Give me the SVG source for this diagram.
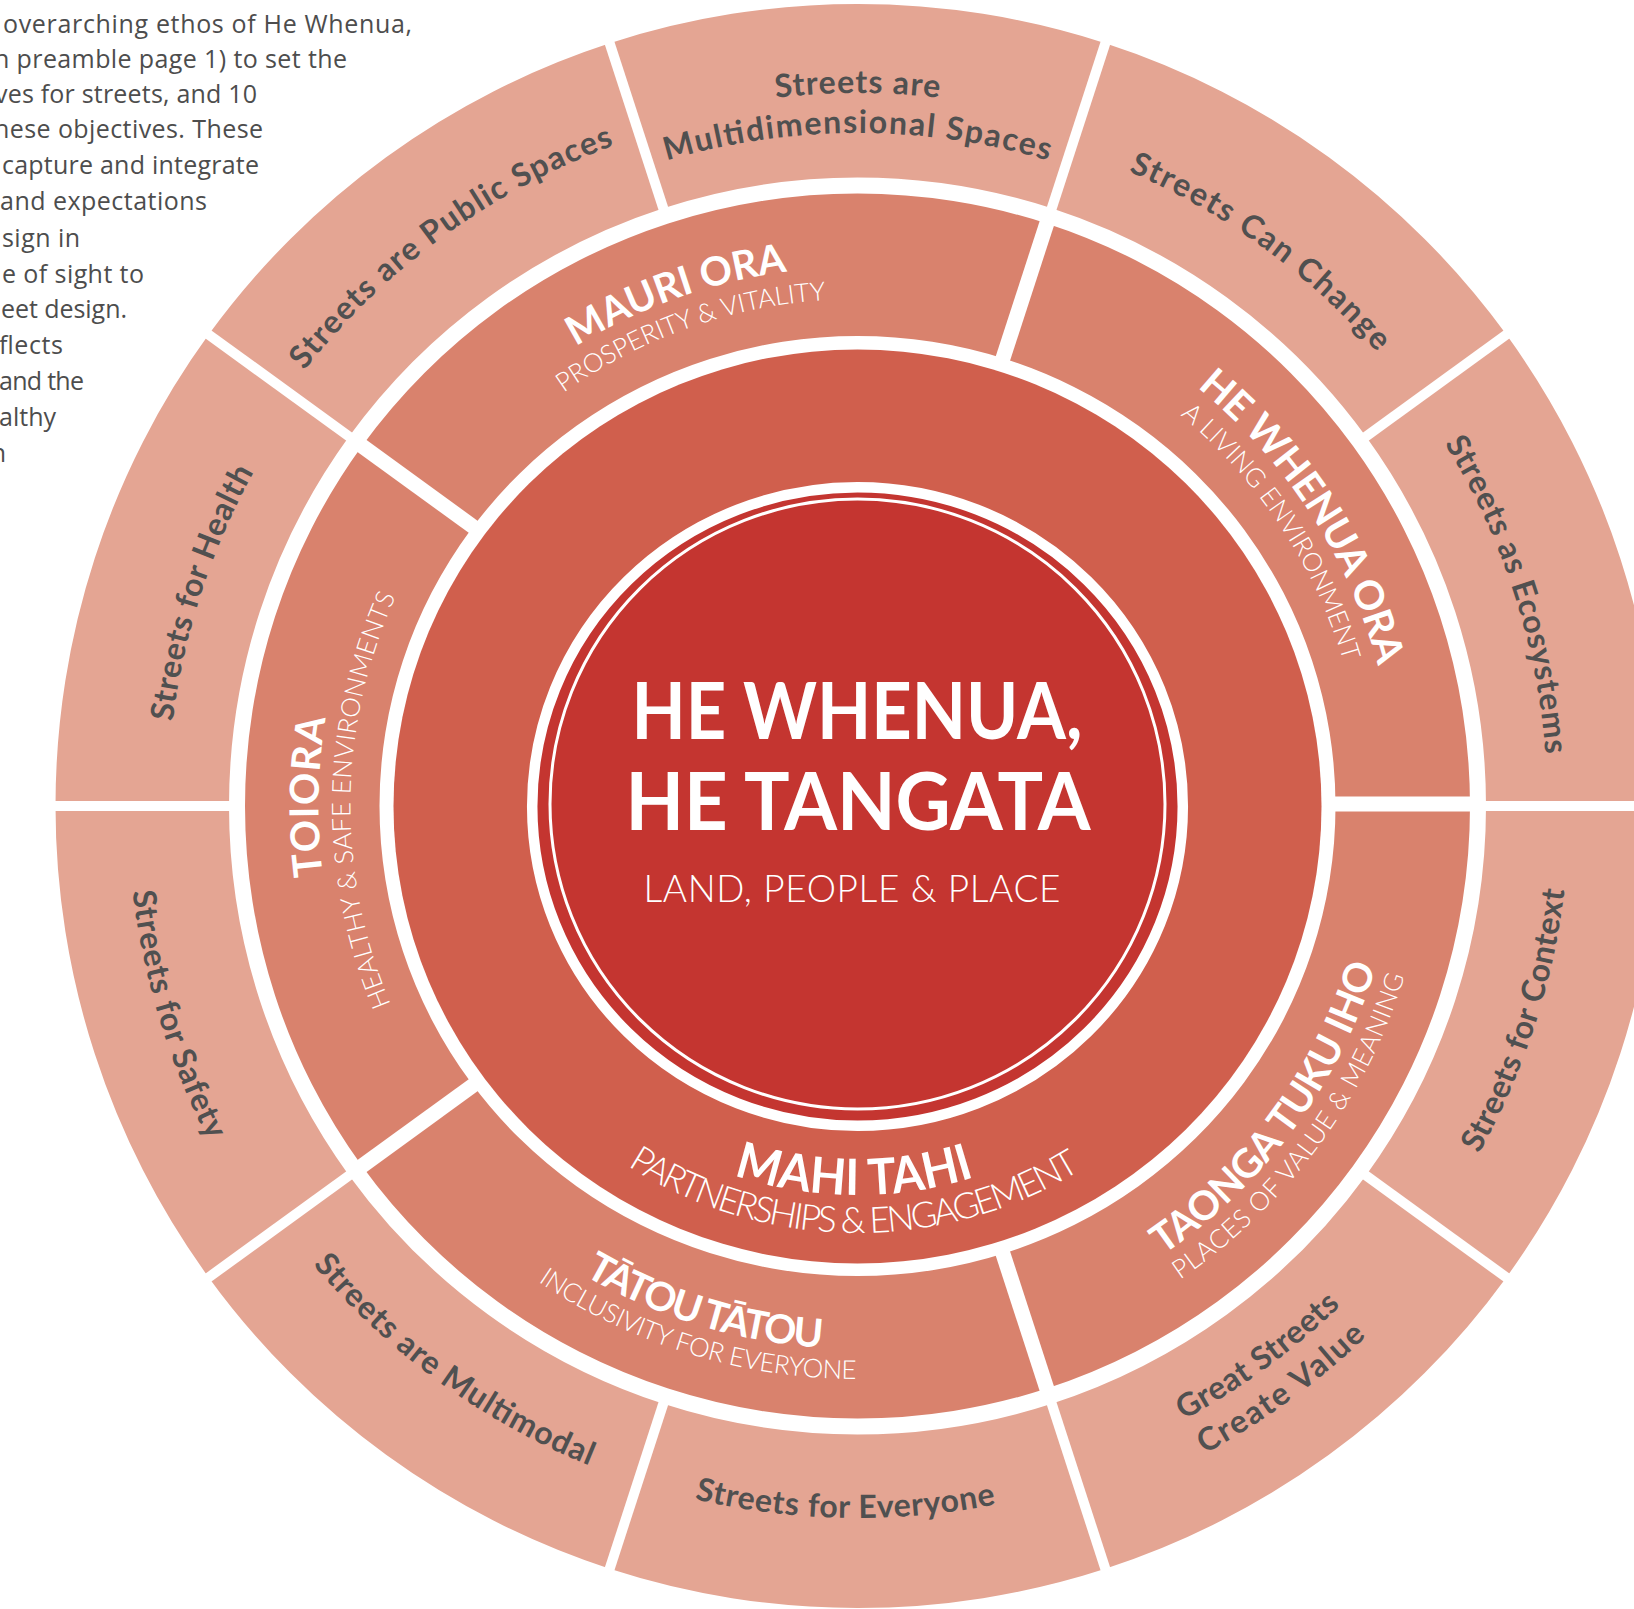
<svg xmlns="http://www.w3.org/2000/svg" width="1634" height="1609" viewBox="0 0 1634 1609">
<style>
  .outer { fill: #E4A593; }
  .mid { fill: #D9826D; }
  .inner { fill: #D05F4D; }
  .core { fill: #C43530; }
  .lbl { font-family: Lato, "Liberation Sans", sans-serif; font-weight: 700; font-size: 32px; fill: #505050; }
  .ttl { font-family: Lato, "Liberation Sans", sans-serif; font-weight: 700; font-size: 40px; fill: #ffffff; }
  .sub { font-family: Lato, "Liberation Sans", sans-serif; font-weight: 300; font-size: 26px; fill: #ffffff; }
  .para { font-family: "Open Sans", "Liberation Sans", sans-serif; font-size: 25px; fill: #4D4D4D; }
  .divo { stroke: #ffffff; stroke-width: 10; }
  .divm { stroke: #ffffff; stroke-width: 15; }
</style>
<defs>
  <!-- clockwise arcs centred on the top of the wheel (text upright, tops outward) -->
  <path id="cw713" d="M 147.22 743.85 A 713 713 0 0 1 1567.78 743.85"/>
  <path id="cw704" d="M 156.18 744.64 A 704 704 0 0 1 1558.82 744.64"/>
  <path id="cw690" d="M 170.13 745.86 A 690 690 0 0 1 1544.87 745.86"/>
  <path id="cw673" d="M 187.06 747.34 A 673 673 0 0 1 1527.94 747.34"/>
  <path id="cw539" d="M 320.55 759.02 A 539 539 0 0 1 1394.45 759.02"/>
  <path id="cw507" d="M 352.43 761.81 A 507 507 0 0 1 1362.57 761.81"/>
  <!-- counter-clockwise arcs centred on the bottom (tops inward) -->
  <path id="ccw735" d="M 125.3 870.06 A 735 735 0 0 0 1589.7 870.06"/>
  <path id="ccw730" d="M 130.28 869.63 A 730 730 0 0 0 1584.72 869.63"/>
  <path id="ccw712" d="M 148.21 868.06 A 712 712 0 0 0 1566.79 868.06"/>
  <path id="ccw695" d="M 165.15 866.58 A 695 695 0 0 0 1549.85 866.58"/>
  <path id="ccw573" d="M 286.68 855.94 A 573 573 0 0 0 1428.32 855.94"/>
  <path id="ccw543" d="M 316.57 853.33 A 543 543 0 0 0 1398.43 853.33"/>
  <path id="ccw427" d="M 432.13 843.22 A 427 427 0 0 0 1282.87 843.22"/>
  <path id="ccw389" d="M 469.98 839.91 A 389 389 0 0 0 1245.02 839.91"/>
</defs>

<rect width="1634" height="1609" fill="#ffffff"/>

<!-- introductory paragraph, running in from the left page edge -->
<g id="intro-text" class="para" text-anchor="end">
  <text x="412" y="33" textLength="409">overarching ethos of He Whenua,</text>
  <text x="347" y="68" textLength="353">n preamble page 1) to set the</text>
  <text x="257" y="103" textLength="262">ves for streets, and 10</text>
  <text x="263" y="138" textLength="269">hese objectives. These</text>
  <text x="259" y="174" textLength="257">capture and integrate</text>
  <text x="207" y="210" textLength="207">and expectations</text>
  <text x="80" y="247" textLength="78">sign in</text>
  <text x="144" y="283" textLength="142">e of sight to</text>
  <text x="127" y="318" textLength="126">eet design.</text>
  <text x="63" y="354" textLength="64">flects</text>
  <text x="84" y="390" textLength="85">and the</text>
  <text x="56" y="426" textLength="57">althy</text>
  <text x="6" y="462" textLength="13">n</text>
</g>

<!-- outer ring: ten street principles -->
<g id="outer-ring">
  <g id="p-multidimensional">
    <path class="outer" d="M 609.67 43.25 A 802 802 0 0 1 1105.33 43.25 L 1051.72 208.26 A 628.5 628.5 0 0 0 663.28 208.26 Z"/>
    <text class="lbl"><textPath href="#cw713" startOffset="50%" text-anchor="middle" textLength="164">Streets are</textPath></text>
    <text class="lbl"><textPath href="#cw673" startOffset="50%" text-anchor="middle" textLength="387">Multidimensional Spaces</textPath></text>
  </g>
  <g id="p-can-change">
    <path class="outer" d="M 1105.33 43.25 A 802 802 0 0 1 1506.33 334.59 L 1365.97 436.57 A 628.5 628.5 0 0 0 1051.72 208.26 Z"/>
    <text class="lbl" transform="rotate(36 857.5 806)"><textPath href="#cw690" startOffset="50%" text-anchor="middle" textLength="310">Streets Can Change</textPath></text>
  </g>
  <g id="p-ecosystems">
    <path class="outer" d="M 1506.33 334.59 A 802 802 0 0 1 1659.5 806 L 1486 806 A 628.5 628.5 0 0 0 1365.97 436.57 Z"/>
    <text class="lbl" transform="rotate(72 857.5 806)"><textPath href="#cw690" startOffset="50%" text-anchor="middle" textLength="330">Streets as Ecosystems</textPath></text>
  </g>
  <g id="p-context">
    <path class="outer" d="M 1659.5 806 A 802 802 0 0 1 1506.33 1277.41 L 1365.97 1175.43 A 628.5 628.5 0 0 0 1486 806 Z"/>
    <text class="lbl" transform="rotate(-72 857.5 806)"><textPath href="#ccw712" startOffset="50%" text-anchor="middle" textLength="279">Streets for Context</textPath></text>
  </g>
  <g id="p-create-value">
    <path class="outer" d="M 1506.33 1277.41 A 802 802 0 0 1 1105.33 1568.75 L 1051.72 1403.74 A 628.5 628.5 0 0 0 1365.97 1175.43 Z"/>
    <text class="lbl" transform="rotate(-36 857.5 806)"><textPath href="#ccw695" startOffset="50%" text-anchor="middle" textLength="195">Great Streets</textPath></text>
    <text class="lbl" transform="rotate(-36 857.5 806)"><textPath href="#ccw735" startOffset="50%" text-anchor="middle" textLength="201">Create Value</textPath></text>
  </g>
  <g id="p-everyone">
    <path class="outer" d="M 1105.33 1568.75 A 802 802 0 0 1 609.67 1568.75 L 663.28 1403.74 A 628.5 628.5 0 0 0 1051.72 1403.74 Z"/>
    <text class="lbl" transform="rotate(1 857.5 806)"><textPath href="#ccw712" startOffset="50%" text-anchor="middle" textLength="304">Streets for Everyone</textPath></text>
  </g>
  <g id="p-multimodal">
    <path class="outer" d="M 609.67 1568.75 A 802 802 0 0 1 208.67 1277.41 L 349.03 1175.43 A 628.5 628.5 0 0 0 663.28 1403.74 Z"/>
    <text class="lbl" transform="rotate(36 857.5 806)"><textPath href="#ccw712" startOffset="50%" text-anchor="middle" textLength="345">Streets are Multimodal</textPath></text>
  </g>
  <g id="p-safety">
    <path class="outer" d="M 208.67 1277.41 A 802 802 0 0 1 55.5 806 L 229 806 A 628.5 628.5 0 0 0 349.03 1175.43 Z"/>
    <text class="lbl" transform="rotate(73 857.5 806)"><textPath href="#ccw730" startOffset="50%" text-anchor="middle" textLength="262">Streets for Safety</textPath></text>
  </g>
  <g id="p-health">
    <path class="outer" d="M 55.5 806 A 802 802 0 0 1 208.67 334.59 L 349.03 436.57 A 628.5 628.5 0 0 0 229 806 Z"/>
    <text class="lbl" transform="rotate(-72 857.5 806)"><textPath href="#cw690" startOffset="50%" text-anchor="middle" textLength="264">Streets for Health</textPath></text>
  </g>
  <g id="p-public-spaces">
    <path class="outer" d="M 208.67 334.59 A 802 802 0 0 1 609.67 43.25 L 663.28 208.26 A 628.5 628.5 0 0 0 349.03 436.57 Z"/>
    <text class="lbl" transform="rotate(-36 857.5 806)"><textPath href="#cw704" startOffset="50%" text-anchor="middle" textLength="388">Streets are Public Spaces</textPath></text>
  </g>
</g>

<!-- middle ring: five outcomes -->
<g id="middle-ring">
  <g id="o-mauri-ora">
    <path class="mid" d="M 361.98 445.98 A 612.5 612.5 0 0 1 1046.77 223.48 L 1005.21 359 A 478 470 0 0 0 470.79 529.74 Z"/>
    <text class="ttl" transform="rotate(-19.5 857.5 806)"><textPath href="#cw539" startOffset="50%" text-anchor="middle" textLength="226">MAURI ORA</textPath></text>
    <text class="sub" transform="rotate(-19.5 857.5 806)"><textPath href="#cw507" startOffset="50%" text-anchor="middle" textLength="282">PROSPERITY &amp; VITALITY</textPath></text>
  </g>
  <g id="o-he-whenua-ora">
    <path class="mid" d="M 1046.77 223.48 A 612.5 612.5 0 0 1 1470 806 L 1335.5 806 A 478 470 0 0 0 1005.21 359 Z"/>
    <text class="ttl" transform="rotate(57 857.5 806)"><textPath href="#cw539" startOffset="50%" text-anchor="middle" textLength="338">HE WHENUA ORA</textPath></text>
    <text class="sub" transform="rotate(56.5 857.5 806)"><textPath href="#cw507" startOffset="50%" text-anchor="middle" textLength="300">A LIVING ENVIRONMENT</textPath></text>
  </g>
  <g id="o-taonga-tuku-iho">
    <path class="mid" d="M 1470 806 A 612.5 612.5 0 0 1 1046.77 1388.52 L 1005.21 1253 A 478 470 0 0 0 1335.5 806 Z"/>
    <text class="ttl" transform="rotate(-53.5 857.5 806)"><textPath href="#ccw543" startOffset="50%" text-anchor="middle" textLength="365">TAONGA TUKU IHO</textPath></text>
    <text class="sub" transform="rotate(-53.5 857.5 806)"><textPath href="#ccw573" startOffset="50%" text-anchor="middle" textLength="385">PLACES OF VALUE &amp; MEANING</textPath></text>
  </g>
  <g id="o-tatou-tatou">
    <path class="mid" d="M 1046.77 1388.52 A 612.5 612.5 0 0 1 361.98 1166.02 L 470.79 1082.26 A 478 470 0 0 0 1005.21 1253 Z"/>
    <text class="ttl" transform="rotate(17 857.5 806)"><textPath href="#ccw543" startOffset="50%" text-anchor="middle" textLength="251">TĀTOU TĀTOU</textPath></text>
    <text class="sub" transform="rotate(17 857.5 806)"><textPath href="#ccw573" startOffset="50%" text-anchor="middle" textLength="338">INCLUSIVITY FOR EVERYONE</textPath></text>
  </g>
  <g id="o-toiora">
    <path class="mid" d="M 361.98 1166.02 A 612.5 612.5 0 0 1 361.98 445.98 L 470.79 529.74 A 478 470 0 0 0 470.79 1082.26 Z"/>
    <text class="ttl" transform="rotate(-89 857.5 806)"><textPath href="#cw539" startOffset="50%" text-anchor="middle" textLength="158">TOIORA</textPath></text>
    <text class="sub" transform="rotate(-89.3 857.5 806)"><textPath href="#cw507" startOffset="50%" text-anchor="middle" textLength="420">HEALTHY &amp; SAFE ENVIRONMENTS</textPath></text>
  </g>
</g>

<!-- inner ring: partnerships -->
<g id="mahi-tahi">
  <ellipse class="inner" cx="857.5" cy="806.5" rx="464" ry="457"/>
  <text class="ttl" style="font-size:50px" transform="rotate(0.5 857.5 806)"><textPath href="#ccw389" startOffset="50%" text-anchor="middle" textLength="245" lengthAdjust="spacingAndGlyphs">MAHI TAHI</textPath></text>
  <text class="sub" style="font-size:36px" transform="rotate(0.5 857.5 806)"><textPath href="#ccw427" startOffset="50%" text-anchor="middle" textLength="478">PARTNERSHIPS &amp; ENGAGEMENT</textPath></text>
</g>

<!-- centre: land, people and place -->
<g id="core">
  <ellipse class="core" cx="857.5" cy="806.5" rx="325.3" ry="319.3" stroke="#ffffff" stroke-width="10.5"/>
  <ellipse cx="857.5" cy="804" rx="307.5" ry="305" fill="none" stroke="#ffffff" stroke-width="3"/>
  <text x="857" y="738.5" text-anchor="middle" font-family="Lato, 'Liberation Sans', sans-serif" font-weight="700" font-size="78" fill="#ffffff" textLength="451" lengthAdjust="spacingAndGlyphs">HE WHENUA,</text>
  <text x="858" y="830" text-anchor="middle" font-family="Lato, 'Liberation Sans', sans-serif" font-weight="700" font-size="80" fill="#ffffff" textLength="465" lengthAdjust="spacingAndGlyphs">HE TANGATA</text>
  <text x="852" y="902" text-anchor="middle" font-family="Lato, 'Liberation Sans', sans-serif" font-weight="300" font-size="37" fill="#ffffff" textLength="417">LAND, PEOPLE &amp; PLACE</text>
</g>

<!-- white dividers between ring segments -->
<g id="dividers">
  <line class="divo" x1="1049.09" y1="216.34" x2="1109.35" y2="30.89"/>
  <line class="divo" x1="1359.09" y1="441.57" x2="1516.85" y2="326.95"/>
  <line class="divo" x1="1477.5" y1="806" x2="1672.5" y2="806"/>
  <line class="divo" x1="1359.09" y1="1170.43" x2="1516.85" y2="1285.05"/>
  <line class="divo" x1="1049.09" y1="1395.66" x2="1109.35" y2="1581.11"/>
  <line class="divo" x1="665.91" y1="1395.66" x2="605.65" y2="1581.11"/>
  <line class="divo" x1="355.91" y1="1170.43" x2="198.15" y2="1285.05"/>
  <line class="divo" x1="237.5" y1="806" x2="42.5" y2="806"/>
  <line class="divo" x1="355.91" y1="441.57" x2="198.15" y2="326.95"/>
  <line class="divo" x1="665.91" y1="216.34" x2="605.65" y2="30.89"/>
  <line class="divm" x1="1001.5" y1="362.8" x2="1050.64" y2="211.59"/>
  <line class="divm" x1="1328" y1="804" x2="1482.5" y2="804"/>
  <line class="divm" x1="1001.5" y1="1249.2" x2="1050.64" y2="1400.41"/>
  <line class="divm" x1="477.26" y1="1082.26" x2="351.86" y2="1173.37"/>
  <line class="divm" x1="477.26" y1="529.74" x2="351.86" y2="438.63"/>
</g>
</svg>
